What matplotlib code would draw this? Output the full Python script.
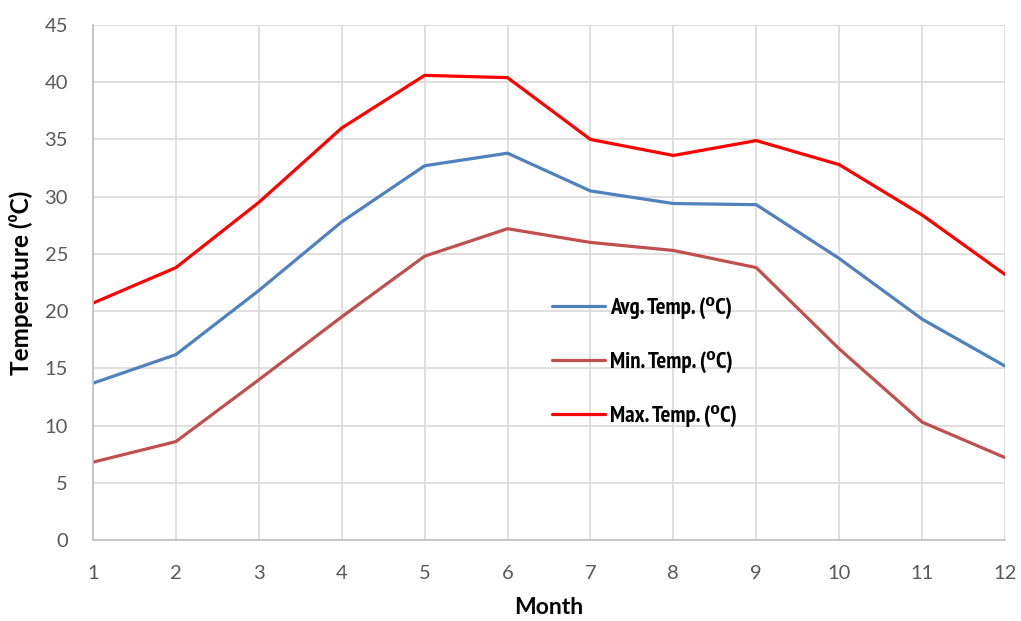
import matplotlib
matplotlib.use("Agg")
import matplotlib.pyplot as plt
from matplotlib.font_manager import FontProperties, fontManager

months = list(range(1, 13))
avg_temp = [13.7, 16.2, 21.8, 27.8, 32.7, 33.8, 30.5, 29.4, 29.3, 24.6, 19.3, 15.2]
min_temp = [6.8, 8.6, 14.0, 19.5, 24.8, 27.2, 26.0, 25.3, 23.8, 16.7, 10.3, 7.2]
max_temp = [20.7, 23.8, 29.5, 36.0, 40.6, 40.4, 35.0, 33.6, 34.9, 32.8, 28.4, 23.2]
y_ticks = list(range(0, 50, 5))
series_labels = ["Avg. Temp. (\u2070C)", "Min. Temp. (\u2070C)", "Max. Temp. (\u2070C)"]

# find a condensed bold font family for the legend
names = {f.name for f in fontManager.ttflist}
narrow_family = None
for cand in ["PT Sans Narrow", "Liberation Sans Narrow", "Roboto Condensed", "Open Sans Condensed"]:
    if cand in names:
        narrow_family = cand
        break
if narrow_family is None:
    for f in fontManager.ttflist:
        fn = f.fname.lower()
        if "narrow" in fn or "condensed" in fn:
            narrow_family = f.name
            break
fams = [narrow_family, "DejaVu Sans"] if narrow_family else ["DejaVu Sans"]
leg_fp = FontProperties(family=fams, weight="bold", size=16.5 if narrow_family else 12)

fig = plt.figure(figsize=(10.21, 6.21), dpi=100)
ax = fig.add_axes([93/1021, 1-540/621, (1005-93)/1021, (540-25)/621])

lw = 2.3
colors = ["#4F81BD", "#C0504D", "#FF0000"]
for vals, c, lab in zip([avg_temp, min_temp, max_temp], colors, series_labels):
    ax.plot(months, vals, color=c, lw=lw, label=lab, solid_capstyle="round")

ax.set_xlim(1, 12)
ax.set_ylim(0, 45)
ax.set_xticks(months)
ax.set_yticks(y_ticks)
ax.grid(True, color="#D9D9D9", lw=1.2)
ax.set_axisbelow(True)
for s in ["top", "right"]:
    ax.spines[s].set_visible(False)
for s in ["left", "bottom"]:
    ax.spines[s].set_color("#BFBFBF")
    ax.spines[s].set_linewidth(1.2)
ax.tick_params(length=0, labelsize=14.5, colors="#595959")
ax.tick_params(axis="y", pad=18)
ax.tick_params(axis="x", pad=18)
for t in ax.get_xticklabels() + ax.get_yticklabels():
    t.set_fontfamily("Lato")

ax.set_xlabel("Month", fontsize=16.5, fontweight="bold", family="Lato", labelpad=11)
ax.set_ylabel("Temperature (\u2070C)", fontsize=17.5, fontweight="bold", family=["Lato", "DejaVu Sans"], labelpad=8)

leg = ax.legend(loc="center left", bbox_to_anchor=(552/1021, 1-362/621), bbox_transform=fig.transFigure,
                frameon=False, prop=leg_fp, handlelength=2.3, handletextpad=0.22, labelspacing=1.38,
                borderpad=0, borderaxespad=0)

fig.savefig("out.png", dpi=100)
